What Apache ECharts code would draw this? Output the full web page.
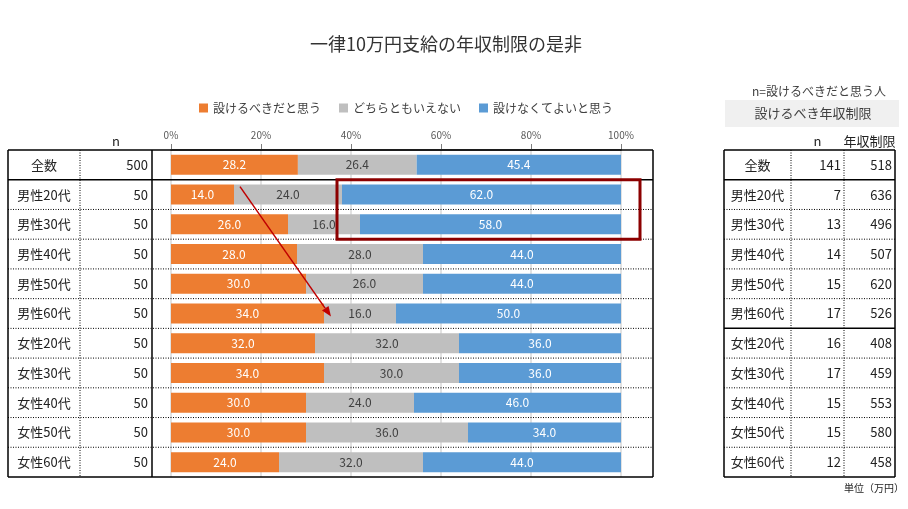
<!DOCTYPE html>
<html><head><meta charset="utf-8">
<script src="https://cdn.jsdelivr.net/npm/echarts@6/dist/echarts.min.js"></script>
<style>html,body{margin:0;padding:0;background:#fff;}#c{width:908px;height:509px;}</style>
</head><body><div id="c"></div>
<script>
const categories = ['全数','男性20代','男性30代','男性40代','男性50代','男性60代','女性20代','女性30代','女性40代','女性50代','女性60代'];
const nAll = [500,50,50,50,50,50,50,50,50,50,50];
const shouldSet = [28.2,14.0,26.0,28.0,30.0,34.0,32.0,34.0,30.0,30.0,24.0];
const neither = [26.4,24.0,16.0,28.0,26.0,16.0,32.0,30.0,24.0,36.0,32.0];
const noNeed = [45.4,62.0,58.0,44.0,44.0,50.0,36.0,36.0,46.0,34.0,44.0];
const nShould = [141,7,13,14,15,17,16,17,15,15,12];
const limitVal = [518,636,496,507,620,526,408,459,553,580,458];
const seriesNames = ['設けるべきだと思う','どちらともいえない','設けなくてよいと思う'];
const xTicks = [0,20,40,60,80,100];

(function(){
const FONT = '"Noto Sans CJK JP", "Noto Sans", sans-serif';
const chart = echarts.init(document.getElementById('c'));
const colors = ['#ED7D31','#BFBFBF','#5B9BD5'];
const labelColors = ['#ffffff','#404040','#ffffff'];
const dataSets = [shouldSet, neither, noNeed];

chart.setOption({
  animation:false,
  textStyle:{fontFamily:FONT},
  title:{text:'一律10万円支給の年収制限の是非',left:441,textAlign:'center',top:30,
    textStyle:{fontSize:18,fontWeight:'normal',color:'#333',fontFamily:FONT}},
  legend:{left:194,top:97,itemWidth:9,itemHeight:9,itemGap:18,icon:'rect',
    textStyle:{fontSize:12,color:'#404040',fontFamily:FONT},data:seriesNames},
  grid:{left:171,right:287,top:150,bottom:32},
  xAxis:{type:'value',position:'top',min:xTicks[0],max:xTicks[xTicks.length-1],interval:20,
    axisLine:{show:true,lineStyle:{color:'#404040',width:1.5}},
    axisTick:{show:true,length:6,lineStyle:{color:'#808080'}},
    axisLabel:{formatter:v=>v+'%',fontSize:10,color:'#595959',margin:10,fontFamily:FONT},
    splitLine:{show:true,lineStyle:{color:'#d9d9d9',width:1.5}}},
  yAxis:{type:'category',inverse:true,data:categories,show:false},
  series:dataSets.map((d,i)=>({
    name:seriesNames[i],type:'bar',stack:'s',barWidth:20,data:d,
    itemStyle:{color:colors[i]},
    label:{show:true,position:'inside',formatter:p=>p.value.toFixed(1),
      color:labelColors[i],fontSize:12,fontFamily:FONT}
  }))
});

const centers = categories.map(c=>chart.convertToPixel({yAxisIndex:0},c));
const band = centers[1]-centers[0];
const bounds = centers.map(c=>c-band/2);
bounds.push(centers[centers.length-1]+band/2);
const g = [];
const line = (x1,y1,x2,y2,dotted,w,color)=>g.push({type:'line',z:10,silent:true,
  shape:{x1,y1,x2,y2},style:{stroke:color||'#000',lineWidth:w||1,lineDash:dotted?[1,1.5]:null}});
const text = (x,y,t,align,size,fill)=>g.push({type:'text',z:11,silent:true,x,y,
  style:{text:t,align:align||'center',verticalAlign:'middle',fontSize:size||13,fill:fill||'#222',fontFamily:FONT}});

const L0=8,L1=80,L2=152,L3=653;
bounds.forEach((y,i)=>{
  const solid = (i===0||i===1||i===bounds.length-1);
  line(L0,y,L3,y,!solid,solid?1.5:1);
});
const tY=bounds[0], bY=bounds[bounds.length-1];
line(L0,tY,L0,bY,false,1.5);
line(L1,tY,L1,bY,true,1);
line(L2,tY,L2,bY,false,1.5);
line(L3,tY,L3,bY,false,1.5);
text((L1+L2)/2,141,'n');
categories.forEach((c,i)=>{
  text((L0+L1)/2,centers[i],c);
  text(L2-4,centers[i],String(nAll[i]),'right');
});

const R0=724,R1=791,R2=844,R3=895;
bounds.forEach((y,i)=>{
  const solid = (i===0||i===1||i===6||i===bounds.length-1);
  line(R0,y,R3,y,!solid,solid?1.5:1);
});
line(R0,tY,R0,bY,false,1.5);
line(R1,tY,R1,bY,true,1);
line(R2,tY,R2,bY,true,1);
line(R3,tY,R3,bY,false,1.5);
g.push({type:'rect',z:5,silent:true,shape:{x:725,y:100,width:174,height:27},style:{fill:'#f0f0f0'}});
text(813,113.5,'設けるべき年収制限','center',13,'#404040');
text(819,91,'n=設けるべきだと思う人','center',12,'#404040');
text((R1+R2)/2,141,'n');
text((R2+R3)/2,141,'年収制限');
categories.forEach((c,i)=>{
  text((R0+R1)/2,centers[i],c);
  text(R2-3,centers[i],String(nShould[i]),'right');
  text(R3-3,centers[i],String(limitVal[i]),'right');
});
text(904,488,'単位（万円）','right',10,'#222');

const rx1 = chart.convertToPixel({xAxisIndex:0}, shouldSet[1]+neither[1]) - 5;
g.push({type:'rect',z:12,silent:true,
  shape:{x:rx1,y:bounds[1],width:640-rx1,height:bounds[3]-bounds[1]},
  style:{fill:null,stroke:'#8C0000',lineWidth:3}});

const ax1 = chart.convertToPixel({xAxisIndex:0}, shouldSet[1]) + 6;
const ay1 = centers[1]-8;
const ax2 = chart.convertToPixel({xAxisIndex:0}, shouldSet[5]) + 7;
const ay2 = centers[5]+3;
const ang = Math.atan2(ay2-ay1, ax2-ax1);
const hl=10, hw=4;
const bx = ax2-hl*Math.cos(ang), by = ay2-hl*Math.sin(ang);
line(ax1,ay1,bx,by,false,1.5,'#C00000');
g.push({type:'polygon',z:12,silent:true,shape:{points:[[ax2,ay2],
  [bx+hw*Math.sin(ang),by-hw*Math.cos(ang)],[bx-hw*Math.sin(ang),by+hw*Math.cos(ang)]]},
  style:{fill:'#C00000'}});

chart.setOption({graphic:g});
})();
</script></body></html>
